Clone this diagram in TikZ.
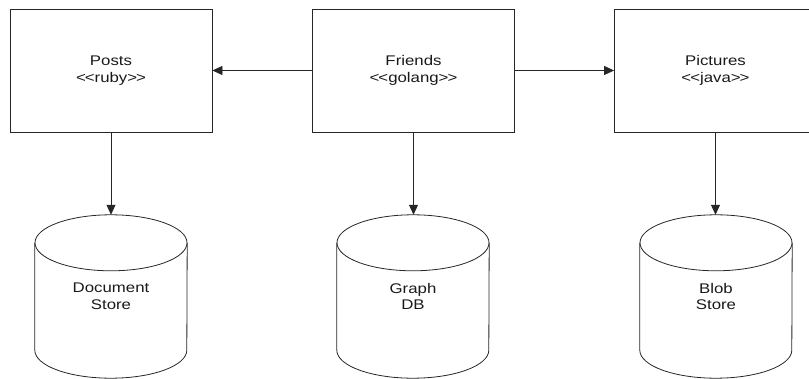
\documentclass[tikz,border=0pt]{standalone}
\usepackage{fontspec}
\setmainfont{Liberation Sans}[FakeStretch=1.2]
\usetikzlibrary{arrows.meta,calc}

\tikzset{
  line/.style={draw=black!85, line width=0.8pt},
  service/.style={line, rectangle, minimum width=202pt, minimum height=123pt,
    align=center, font=\fontsize{14}{16.8}\selectfont, text=black!90, inner sep=0pt},
  dbbody/.style={rectangle, minimum width=152pt, minimum height=163pt,
    align=center, font=\fontsize{14}{16.8}\selectfont, text=black!90, inner sep=0pt},
  flow/.style={line, -{Triangle[length=10pt,width=9pt]}},
}

% stereotype brackets without the guillemet ligature
\newcommand{\stereo}[1]{{<}\kern-1pt{<}#1{>}\kern-1pt{>}}

% outline of a database cylinder around a dbbody node
\newcommand{\dbcylinder}[1]{%
  \draw[line] ($(#1.north)+(0,-28pt)$) ellipse [x radius=76pt, y radius=28pt];
  \draw[line] ($(#1.north west)+(0,-28pt)$) -- ($(#1.south west)+(0,28pt)$)
    arc [start angle=180, end angle=360, x radius=76pt, y radius=28pt]
    -- ($(#1.north east)+(0,-28pt)$);
}

\begin{document}
\begin{tikzpicture}[x=1pt,y=-1pt]
  \useasboundingbox (0,0) rectangle (809,379);
  \clip (0,0) rectangle (809,379);

  % services
  \node[service] (posts)    at (111,70.5)   {Posts\\\stereo{ruby}};
  \node[service] (friends)  at (413.5,70.5) {Friends\\\stereo{golang}};
  \node[service] (pictures) at (715.5,70.5) {Pictures\\\stereo{java}};

  % data stores
  \node[dbbody] (docstore) at (111,296.5) {Document\\Store};
  \node[dbbody] (graphdb)  at (413,296.5) {Graph\\DB};
  \node[dbbody] (blob)     at (716,296.5) {Blob\\Store};
  \dbcylinder{docstore}
  \dbcylinder{graphdb}
  \dbcylinder{blob}

  % calls between services
  \draw[flow] (friends.west) -- (posts.east);
  \draw[flow] (friends.east) -- (pictures.west);

  % each service to its store
  \draw[flow] (posts.south) -- (posts.south |- docstore.north);
  \draw[flow] (friends.south) -- (friends.south |- graphdb.north);
  \draw[flow] (pictures.south) -- (pictures.south |- blob.north);
\end{tikzpicture}
\end{document}
